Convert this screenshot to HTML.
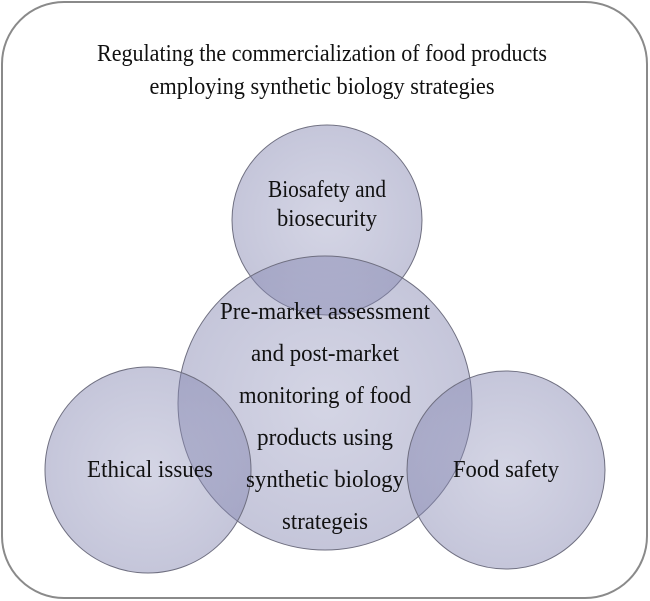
<!DOCTYPE html>
<html><head><style>
html,body{margin:0;padding:0;background:#fff;}
svg{display:block;}
text{font-family:"Liberation Serif",serif;fill:#111;}
</style></head><body>
<svg width="650" height="601" viewBox="0 0 650 601" xmlns="http://www.w3.org/2000/svg">
<defs>
<radialGradient id="g" cx="50%" cy="50%" r="50%">
<stop offset="0" stop-color="#9496bd" stop-opacity="0.40"/>
<stop offset="1" stop-color="#8385b0" stop-opacity="0.47"/>
</radialGradient>
</defs>
<rect x="2" y="2" width="645" height="596" rx="62" ry="62" fill="#fff" stroke="#8a8a8a" stroke-width="2"/>
<g font-size="24" text-anchor="middle">
<text x="322" y="61" textLength="450" lengthAdjust="spacingAndGlyphs">Regulating the commercialization of food products</text>
<text x="322" y="94" textLength="345" lengthAdjust="spacingAndGlyphs">employing synthetic biology strategies</text>
</g>
<g stroke="#6f6f80" stroke-width="1" fill="url(#g)">
<circle cx="327" cy="220" r="95"/>
<circle cx="325" cy="403" r="147"/>
<circle cx="148" cy="470" r="103"/>
<circle cx="506" cy="470" r="99"/>
</g>
<g font-size="24" text-anchor="middle">
<text x="327" y="197" textLength="118" lengthAdjust="spacingAndGlyphs">Biosafety and</text>
<text x="327" y="226" textLength="100" lengthAdjust="spacingAndGlyphs">biosecurity</text>
<text x="325" y="319" textLength="210" lengthAdjust="spacingAndGlyphs">Pre-market assessment</text>
<text x="325" y="361" textLength="148" lengthAdjust="spacingAndGlyphs">and post-market</text>
<text x="325" y="403" textLength="172" lengthAdjust="spacingAndGlyphs">monitoring of food</text>
<text x="325" y="445" textLength="136" lengthAdjust="spacingAndGlyphs">products using</text>
<text x="325" y="487" textLength="158" lengthAdjust="spacingAndGlyphs">synthetic biology</text>
<text x="325" y="529" textLength="86" lengthAdjust="spacingAndGlyphs">strategeis</text>
<text x="150" y="477" textLength="126" lengthAdjust="spacingAndGlyphs">Ethical issues</text>
<text x="506" y="477" textLength="106" lengthAdjust="spacingAndGlyphs">Food safety</text>
</g>
</svg>
</body></html>
